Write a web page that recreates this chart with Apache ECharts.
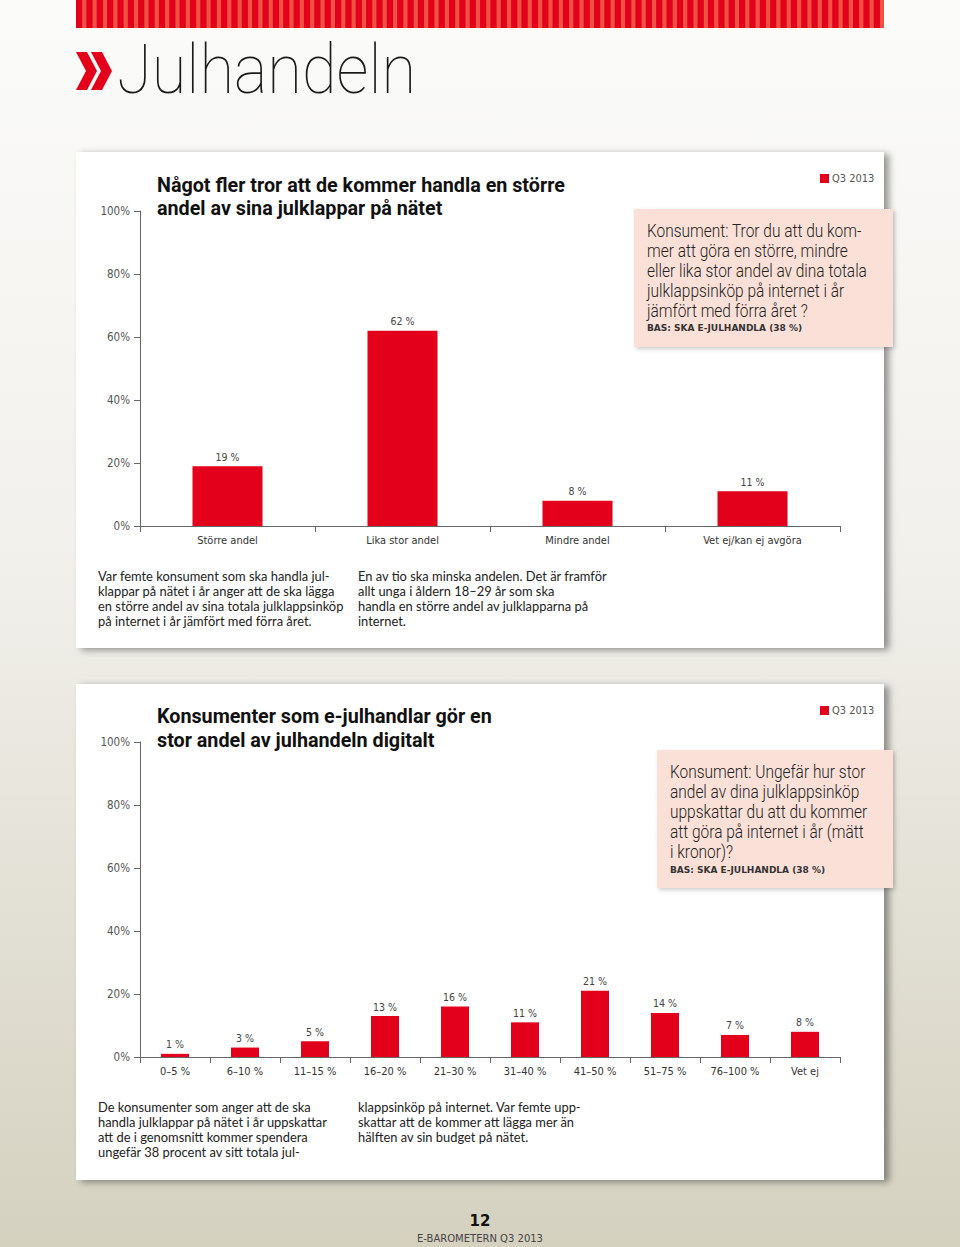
<!DOCTYPE html>
<html>
<head>
<meta charset="utf-8">
<script src="https://cdn.jsdelivr.net/npm/echarts@6/dist/echarts.min.js"></script>
<style>
html,body{margin:0;padding:0;background:#f6f5f1;}
#c{width:960px;height:1247px;}
</style>
</head>
<body>
<div id="c"></div>
<script>
// ---- data ----
const cats1 = ['Större andel', 'Lika stor andel', 'Mindre andel', 'Vet ej/kan ej avgöra'];
const vals1 = [19, 62, 8, 11];
const cats2 = ['0–5 %', '6–10 %', '11–15 %', '16–20 %', '21–30 %', '31–40 %', '41–50 %', '51–75 %', '76–100 %', 'Vet ej'];
const vals2 = [1, 3, 5, 13, 16, 11, 21, 14, 7, 8];
const yTicks = [0, 20, 40, 60, 80, 100];
const seriesName = 'Q3 2013';

// ---- texts ----
const pageTitle = 'Julhandeln';
const title1 = 'Något fler tror att de kommer handla en större\nandel av sina julklappar på nätet';
const title2 = 'Konsumenter som e-julhandlar gör en\nstor andel av julhandeln digitalt';
const q1 = 'Konsument: Tror du att du kom-\nmer att göra en större, mindre\neller lika stor andel av dina totala\njulklappsinköp på internet i år\njämfört med förra året ?';
const q2 = 'Konsument: Ungefär hur stor\nandel av dina julklappsinköp\nuppskattar du att du kommer\natt göra på internet i år (mätt\ni kronor)?';
const bas = 'BAS: SKA E-JULHANDLA (38 %)';
const p1a = 'Var femte konsument som ska handla jul-\nklappar på nätet i år anger att de ska lägga\nen större andel av sina totala julklappsinköp\npå internet i år jämfört med förra året.';
const p1b = 'En av tio ska minska andelen. Det är framför\nallt unga i åldern 18–29 år som ska\nhandla en större andel av julklapparna på\ninternet.';
const p2a = 'De konsumenter som anger att de ska\nhandla julklappar på nätet i år uppskattar\natt de i genomsnitt kommer spendera\nungefär 38 procent av sitt totala jul-';
const p2b = 'klappsinköp på internet. Var femte upp-\nskattar att de kommer att lägga mer än\nhälften av sin budget på nätet.';
const pageNum = '12';
const footer = 'E-BAROMETERN Q3 2013';

const RED = '#e2001a';
const NARROW = '"Liberation Sans Narrow", "DejaVu Sans Condensed", sans-serif';

const chart = echarts.init(document.getElementById('c'), null, {renderer: 'svg', width: 960, height: 1247});

const g = [];
// page background
g.push({type: 'rect', z: -20, shape: {x: 0, y: 0, width: 960, height: 1247},
  style: {fill: new echarts.graphic.LinearGradient(0, 0, 0, 1, [
    {offset: 0, color: '#fbfbfa'}, {offset: 0.45, color: '#f1f0eb'}, {offset: 1, color: '#d4d1bf'}])}});
// stripes
g.push({type: 'rect', z: -19, shape: {x: 76, y: 0, width: 808, height: 28}, style: {fill: '#ef5142'}});
for (let x = 76; x < 882; x += 10.36) {
  g.push({type: 'rect', z: -18, shape: {x: x, y: 0, width: 6.2, height: 28}, style: {fill: RED}});
}
// chevrons
g.push({type: 'polygon', z: -18, shape: {points: [[76, 52], [87, 52], [97, 71], [87, 90], [76, 90], [86, 71]]}, style: {fill: RED}});
g.push({type: 'polygon', z: -18, shape: {points: [[91, 52], [102, 52], [112, 71], [102, 90], [91, 90], [101, 71]]}, style: {fill: RED}});
g.push({type: 'text', z: 10, x: 117, y: 70, scaleX: 0.93,
  style: {text: pageTitle, fill: '#1a1a1a', font: '100 68px Roboto, sans-serif', textAlign: 'left', textVerticalAlign: 'middle'}});

// panels
[[152], [684]].forEach(([top]) => {
  g.push({type: 'rect', z: -15, shape: {x: 76, y: top, width: 808, height: 496},
    style: {fill: '#ffffff', shadowBlur: 7, shadowOffsetX: 5, shadowOffsetY: 2, shadowColor: 'rgba(0,0,0,0.4)'}});
});
// pink boxes
g.push({type: 'rect', z: -14, shape: {x: 634, y: 209, width: 259, height: 138},
  style: {fill: '#fbe0d7', shadowBlur: 4, shadowOffsetX: 2, shadowOffsetY: 2, shadowColor: 'rgba(0,0,0,0.2)'}});
g.push({type: 'rect', z: -14, shape: {x: 657, y: 750, width: 236, height: 138},
  style: {fill: '#fbe0d7', shadowBlur: 4, shadowOffsetX: 2, shadowOffsetY: 2, shadowColor: 'rgba(0,0,0,0.2)'}});

// chart titles
g.push({type: 'text', z: 10, x: 157, y: 173.5, scaleX: 0.94,
  style: {text: title1, fill: '#111', font: 'bold 21px Roboto, sans-serif', lineHeight: 23, textVerticalAlign: 'top'}});
g.push({type: 'text', z: 10, x: 157, y: 704, scaleX: 0.94,
  style: {text: title2, fill: '#111', font: 'bold 21px Roboto, sans-serif', lineHeight: 24, textVerticalAlign: 'top'}});
// questions
g.push({type: 'text', z: 10, x: 647, y: 220, scaleX: 0.86,
  style: {text: q1, fill: '#222', font: '300 18px Roboto, sans-serif', lineHeight: 20.2, textVerticalAlign: 'top'}});
g.push({type: 'text', z: 10, x: 647, y: 328,
  style: {text: bas, fill: '#333', font: 'bold 9px "DejaVu Sans", sans-serif', textVerticalAlign: 'middle'}});
g.push({type: 'text', z: 10, x: 670, y: 762, scaleX: 0.86,
  style: {text: q2, fill: '#222', font: '300 18px Roboto, sans-serif', lineHeight: 20, textVerticalAlign: 'top'}});
g.push({type: 'text', z: 10, x: 670, y: 870,
  style: {text: bas, fill: '#333', font: 'bold 9px "DejaVu Sans", sans-serif', textVerticalAlign: 'middle'}});
// paragraphs
[[p1a, 98, 568.5], [p1b, 358, 568.5], [p2a, 98, 1099.5], [p2b, 358, 1099.5]].forEach(([t, x, y]) => {
  g.push({type: 'text', z: 10, x: x, y: y,
    style: {text: t, fill: '#222', font: '12.9px Lato, sans-serif', lineHeight: 15, textVerticalAlign: 'top'}});
});
// footer
g.push({type: 'text', z: 10, x: 480, y: 1221,
  style: {text: pageNum, fill: '#111', font: 'bold 15px "DejaVu Sans", sans-serif', textAlign: 'center', textVerticalAlign: 'middle'}});
g.push({type: 'text', z: 10, x: 480, y: 1238,
  style: {text: footer, fill: '#444', font: '10px "DejaVu Sans", sans-serif', textAlign: 'center', textVerticalAlign: 'middle'}});

function yAxis(idx) {
  return {
    type: 'value', gridIndex: idx, min: yTicks[0], max: yTicks[yTicks.length - 1], interval: 20,
    axisLine: {show: true, lineStyle: {color: '#666', width: 1}},
    axisTick: {show: true, length: 6, lineStyle: {color: '#666'}},
    splitLine: {show: false},
    axisLabel: {formatter: '{value}%', color: '#555', fontFamily: NARROW, fontSize: 11.5, margin: 10}
  };
}
function xAxis(idx, cats) {
  return {
    type: 'category', gridIndex: idx, data: cats,
    axisLine: {show: true, lineStyle: {color: '#666', width: 1}},
    axisTick: {show: true, length: 6, lineStyle: {color: '#666'}},
    axisLabel: {color: '#333', fontFamily: NARROW, fontSize: 11, margin: 9, interval: 0}
  };
}
function barSeries(idx, vals) {
  return {
    type: 'bar', name: seriesName, xAxisIndex: idx, yAxisIndex: idx, data: vals, barWidth: '40%',
    itemStyle: {color: RED},
    label: {show: true, position: 'top', formatter: '{c} %', color: '#444', fontFamily: NARROW, fontSize: 10.5, distance: 4}
  };
}
const legendText = {color: '#555', fontFamily: NARROW, fontSize: 11, padding: [0, 0, 0, -2]};

chart.setOption({
  animation: false,
  grid: [
    {left: 140, top: 211, width: 700, height: 315},
    {left: 140, top: 742, width: 700, height: 315}
  ],
  legend: [
    {left: 815, top: 168, data: [seriesName], icon: 'rect', itemWidth: 9, itemHeight: 9, itemGap: 4, selectedMode: false, textStyle: legendText},
    {left: 815, top: 700, data: [seriesName], icon: 'rect', itemWidth: 9, itemHeight: 9, itemGap: 4, selectedMode: false, textStyle: legendText}
  ],
  xAxis: [xAxis(0, cats1), xAxis(1, cats2)],
  yAxis: [yAxis(0), yAxis(1)],
  series: [barSeries(0, vals1), barSeries(1, vals2)],
  graphic: {elements: g}
});
</script>
</body>
</html>
